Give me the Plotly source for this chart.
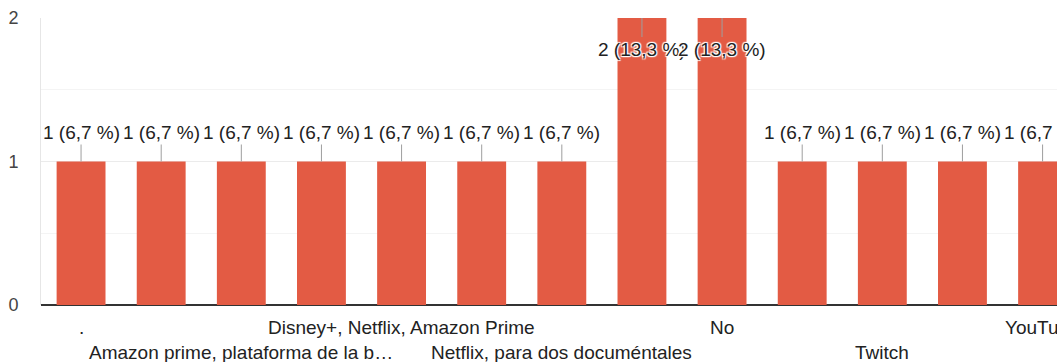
import plotly.graph_objects as go

categories = [".", "Amazon Prime", "Amazon prime, plataforma de la b…", "Disney+",
              "Disney+, Netflix, Amazon Prime", "Netflix", "Netflix, para dos documéntales",
              "Ninguna", "No", "Spotify", "Twitch", "Twitch, YouTube", "YouTube"]
values = [1, 1, 1, 1, 1, 1, 1, 2, 2, 1, 1, 1, 1]
labels = ["1 (6,7 %)"] * 7 + ["2 (13,3 %)", "2 (13,3 %)"] + ["1 (6,7 %)"] * 4
shown_ticks = [0, 2, 4, 6, 8, 10, 12]
y_ticks = [0, 1, 2]

BAR = "#e35b44"
FONT = "Arial, Liberation Sans, sans-serif"
HALO = "1px 1px 1px #fff, -1px -1px 1px #fff, 1px -1px 1px #fff, -1px 1px 1px #fff, 0 0 2px #fff"

fig = go.Figure(go.Bar(x=list(range(len(categories))), y=values, marker_color=BAR,
                       marker_line_width=0, hoverinfo="skip"))

ymax = max(y_ticks)
annotations = []
for i, (v, t) in enumerate(zip(values, labels)):
    annotations.append(dict(
        x=i, y=v, xref="x", yref="y", text=t, showarrow=True, arrowhead=0,
        arrowwidth=1, arrowcolor="#9e9e9e", ax=0, ay=(31 if v >= ymax else -29),
        standoff=0, font=dict(family=FONT, size=19, color="#222222", shadow=HALO)))

for k, i in enumerate(shown_ticks):
    annotations.append(dict(
        x=i, y=0, xref="x", yref="paper", text=categories[i], showarrow=False,
        yanchor="middle", yshift=(-22 if k % 2 == 0 else -47),
        font=dict(family=FONT, size=19, color="#222222")))

fig.update_layout(
    width=1057, height=362,
    margin=dict(l=41, r=0, t=18, b=57),
    paper_bgcolor="white", plot_bgcolor="white",
    bargap=0.39, showlegend=False,
    annotations=annotations,
    font=dict(family=FONT),
)
fig.update_xaxes(range=[-0.5, 12.18], showticklabels=False, showgrid=False,
                 zeroline=False, showline=False, automargin=False, fixedrange=True)
fig.update_yaxes(range=[0, 2], tickvals=y_ticks, ticktext=[str(t) for t in y_ticks],
                 tickfont=dict(family=FONT, size=18, color="#444444"),
                 showgrid=True, gridcolor="#ebebeb", gridwidth=1,
                 minor=dict(dtick=0.5, tick0=0, showgrid=True, gridcolor="#f4f4f4"),
                 zeroline=True, zerolinecolor="#333333", zerolinewidth=1.5,
                 showline=True, linecolor="#e6e6e6", linewidth=1,
                 ticklabelstandoff=18, automargin=False, fixedrange=True)

fig.write_html("out.html", config={"displayModeBar": False})
